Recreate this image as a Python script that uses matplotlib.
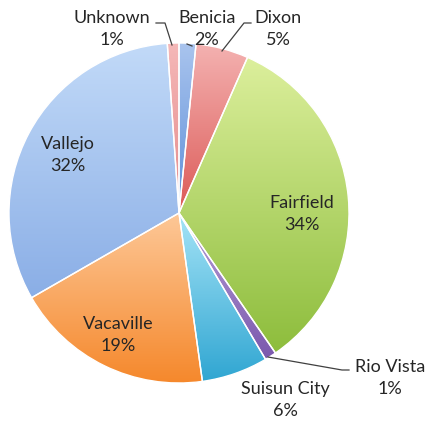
import numpy as np
import matplotlib
matplotlib.use("Agg")
import matplotlib.pyplot as plt
from matplotlib.colors import LinearSegmentedColormap

# data
cities = ["Benicia", "Dixon", "Fairfield", "Rio Vista", "Suisun City",
          "Vacaville", "Vallejo", "Unknown"]
shares = [1.6, 5.0, 33.8, 1.1, 6.3, 18.9, 32.2, 1.1]
top_cols = ["#a9c4ee", "#f4b2b1", "#dcef9c", "#b8a0d8", "#a6e4f7",
            "#fdc898", "#c2daf8", "#f5b8b8"]
bot_cols = ["#5d8ed8", "#dc5a57", "#8dbd3c", "#7a58ad", "#30a6d2",
            "#f5872a", "#8aaee6", "#e48a8a"]

plt.rcParams['font.family'] = ['Lato', 'DejaVu Sans']

fig = plt.figure(figsize=(4.27, 4.23), dpi=100)
ax = fig.add_axes([0, 0, 1, 1])
ax.set_aspect('equal')
ax.axis('off')

wedges, _ = ax.pie(shares, startangle=90, counterclock=False, radius=1.0,
                   wedgeprops=dict(edgecolor='white', linewidth=1.0),
                   colors=top_cols)

# vertical gradient inside each wedge
for w, c1, c2 in zip(wedges, top_cols, bot_cols):
    verts = w.get_path().vertices
    y0, y1 = verts[:, 1].min(), verts[:, 1].max()
    x0, x1 = verts[:, 0].min(), verts[:, 0].max()
    cmap = LinearSegmentedColormap.from_list("g", [c2, c1])
    grad = np.linspace(0, 1, 256).reshape(-1, 1)
    im = ax.imshow(grad, cmap=cmap, extent=[x0, x1, y0, y1], origin='lower',
                   aspect='auto', zorder=1.5)
    im.set_clip_path(w)
    w.set_facecolor('none')
    w.set_zorder(2)

ax.set_xlim(-179 / 170, 248 / 170)
ax.set_ylim(-210 / 170, 213 / 170)

def px(x, y):
    return ((x - 179) / 170, (213 - y) / 170)

labels = ["%s\n%.0f%%" % (c, s) for c, s in zip(cities, shares)]

# label positions in picture pixels
label_pos = [(207, 29), (278, 29), (302, 214), (390, 378), (285, 400),
             (118, 335), (68, 155), (112, 29)]
for lab, (lx, ly) in zip(labels, label_pos):
    x, y = px(lx, ly)
    ax.text(x, y, lab, ha='center', va='center', fontsize=13,
            color='#262626', linespacing=1.45, zorder=5)

# leader lines
lines = [
    [(156, 23), (165, 23), (172, 45)],          # Unknown
    [(187, 44), (192, 46)],                       # Benicia
    [(251, 23), (244, 23), (222, 51)],            # Dixon
    [(268, 357), (342, 370), (349, 370)],         # Rio Vista
]
for ln in lines:
    xs, ys = zip(*[px(a, b) for a, b in ln])
    ax.plot(xs, ys, color='#404040', lw=0.9, zorder=4)

fig.savefig("out.png", dpi=100)
